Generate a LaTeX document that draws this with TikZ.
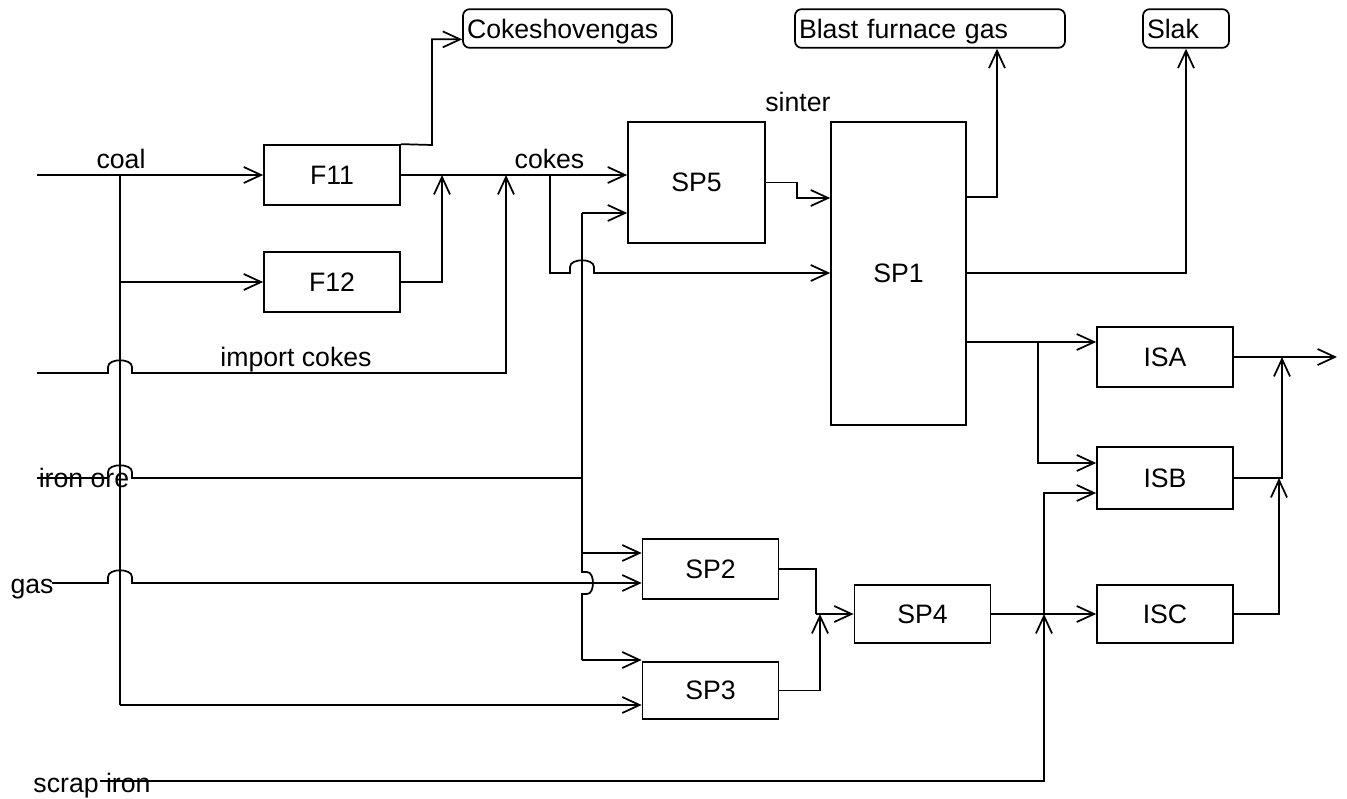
\documentclass[tikz,border=0pt]{standalone}
\usepackage{fontspec}
\setmainfont{Liberation Sans}
\usetikzlibrary{arrows.meta, calc}

\tikzset{
  unit/.style={draw, minimum width=102pt, minimum height=45pt, inner sep=0pt},
  outbox/.style={draw, rounded corners=5pt, minimum height=29pt, inner xsep=3pt, text depth=0pt, align=left},
  flow/.style={-{Straight Barb[length=13pt, width=12pt]}},
  lbl/.style={anchor=base, inner sep=0pt},
}
% line hops over a crossing line
\newcommand{\hop}{-- ++(0,-6) .. controls +(0,-9) and +(0,-9) .. ++(24,0) -- ++(0,6)}
\newcommand{\vhop}{-- ++(5,0) .. controls +(8,0) and +(8,0) .. ++(0,22) -- ++(-5,0)}

\begin{document}
\begin{tikzpicture}[x=0.75pt, y=-0.75pt, line width=1.3pt, font=\fontsize{20}{24}\selectfont]
\useasboundingbox (0,0) rectangle (1347,799);

% process units
\node[unit] (F11) at (332,175) {F11};
\node[unit] (F12) at (332,282) {F12};
\node[unit, minimum width=102.75pt, minimum height=91pt] (SP5) at (696.5,182.5) {SP5};
\node[unit, minimum width=101.25pt, minimum height=227pt] (SP1) at (898.5,273.5) {SP1};
\node[unit] (SP2) at (710.5,569) {SP2};
\node[unit, minimum height=43pt] (SP3) at (710.5,690.5) {SP3};
\node[unit, minimum height=43.5pt] (SP4) at (922.5,614) {SP4};
\node[unit] (ISA) at (1165,357) {ISA};
\node[unit, minimum height=46pt] (ISB) at (1165,478) {ISB};
\node[unit, minimum height=43pt] (ISC) at (1165,614) {ISC};

% products
\node[outbox, text width=150.75pt] (cog) at (567.5,28.5) {Cokeshovengas};
\node[outbox, text width=196.5pt] (bfg) at (930,28.5) {Blast furnace gas};
\node[outbox, text width=58.5pt] (slak) at (1186,28.5) {Slak};

% stream labels
\node[lbl] (coal) at (121,169) {coal};
\node[lbl] (impcokes) at (296,366) {import cokes};
\node[lbl] (cokes) at (549.5,168) {cokes};
\node[lbl] (sinter) at (798,112) {sinter};
\node[lbl] (ore) at (84,487) {iron ore};
\node[lbl] (gas) at (32,593) {gas};
\node[lbl] (scrap) at (92,792) {scrap iron};

% junctions
\coordinate (coalin) at (37,175);
\coordinate (coaltop) at (120,175);
\coordinate (coalend) at (120,705);
\coordinate (impin) at (37,373);
\coordinate (orein) at (37,478);
\coordinate (gasin) at (52,583);
\coordinate (scrapin) at (100,781);
\coordinate (cogturn) at (432,145);
\coordinate (join12) at (442,175);
\coordinate (joinimp) at (506,175);
\coordinate (cokesplit) at (550,175);
\coordinate (cokesturn) at (550,273);
\coordinate (oretop) at (582,213);
\coordinate (orebranch) at (582,553);
\coordinate (orebot) at (582,660);
\coordinate (sinterstep) at (797,198);
\coordinate (bfgturn) at (997,197);
\coordinate (slakturn) at (1187,273);
\coordinate (issplit) at (1038,342);
\coordinate (isbin) at (1038,463);
\coordinate (sp4join) at (816,614);
\coordinate (sp3join) at (820,614);
\coordinate (scrapjoin) at (1044,614);
\coordinate (isbin2) at (1044,493);
\coordinate (outA) at (1282,357);
\coordinate (outB) at (1279,478);
\coordinate (outend) at (1337,357);

% coal and cokes
\draw[flow] (coalin) -- (F11.west);
\draw (coaltop) -- (coalend);
\draw[flow] (coaltop |- F12.west) -- (F12.west);
\draw[flow] (coalend) -- (SP3.west |- coalend);
\draw[flow] (F11.north east) -- (cogturn) |- ([yshift=7pt]cog.south west);
\draw[flow] (F11.east) -- (SP5.west |- F11.east);
\draw[flow] (F12.east) -| (join12);
\draw[flow] (impin) -- ([xshift=-9pt]coaltop |- impin) \hop -| (joinimp);
\draw[flow] (cokesplit) -- (cokesturn) -- ([xshift=-9pt]oretop |- cokesturn) \hop -- (SP1.west |- cokesturn);

% iron ore and gas
\draw (orein) -- ([xshift=-9pt]coaltop |- orein) \hop -- (oretop |- orein);
\draw[flow] (gasin) -- ([xshift=-9pt]coaltop |- gasin) \hop -- (SP2.west |- gasin);
\draw (oretop) -- ([yshift=8.25pt]oretop |- gasin) \vhop -- (orebot);
\draw[flow] (oretop) -- (SP5.west |- oretop);
\draw[flow] (orebranch) -- (SP2.west |- orebranch);
\draw[flow] (orebot) -- (SP3.west |- orebot);

% sinter and blast furnace
\draw[flow] (SP5.east) -| (sinterstep) -- (SP1.west |- sinterstep);
\draw[flow] (SP1.east |- bfgturn) -| (bfg.south -| bfgturn);
\draw[flow] (SP1.east |- slakturn) -| (slak.south);
\draw[flow] (SP1.east |- issplit) -- (ISA.west |- issplit);
\draw[flow] (issplit) |- (ISB.west |- isbin);

% steel plants
\draw (SP2.east) -| (sp4join);
\draw[flow] (sp4join) -- (SP4.west);
\draw[flow] (SP3.east) -| (sp3join);
\draw[flow] (SP4.east) -- (ISC.west);
\draw[flow] (scrapin) -| (scrapjoin);
\draw[flow] (scrapjoin) |- (ISB.west |- isbin2);
\draw[flow] (ISA.east) -- (outend);
\draw[flow] (ISB.east) -| (outA);
\draw[flow] (ISC.east) -| (outB);
\end{tikzpicture}
\end{document}
